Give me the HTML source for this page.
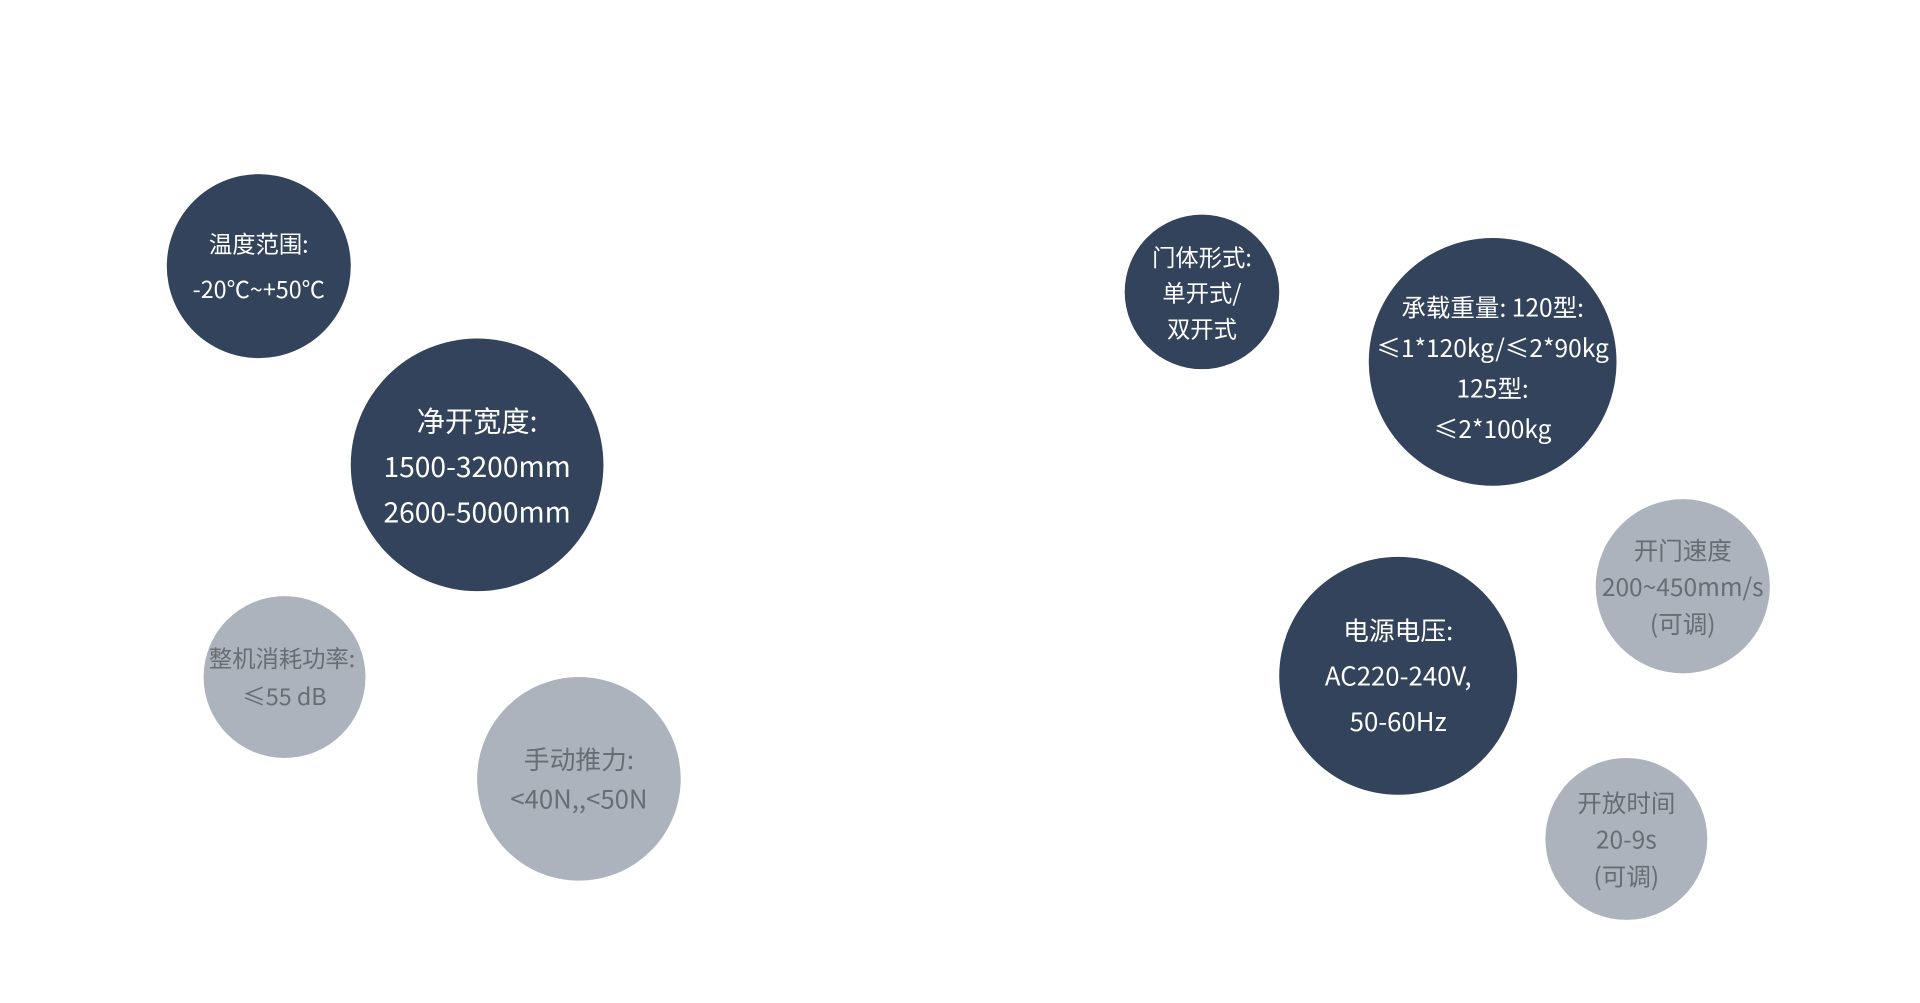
<!DOCTYPE html>
<html><head><meta charset="utf-8"><style>
html,body{margin:0;padding:0;background:#fff;width:1920px;height:1000px;overflow:hidden}
#w{position:absolute;left:0;top:0;width:1570px;height:818px;transform:scale(1.2265);transform-origin:0 0}
.c{position:absolute;border-radius:50%;display:flex;flex-direction:column;align-items:center;justify-content:center;text-align:center;font-family:"Noto Sans CJK SC","Liberation Sans",sans-serif;white-space:nowrap}
.d{background:#32435b;color:#fff}
.g{background:#adb3bd;color:#686c73}
</style></head><body><div id="w">
<div class="c d" style="left:136px;top:142px;width:150px;height:150px;font-size:19px;line-height:37px"><div>温度范围:</div><div>-20℃~+50℃</div></div>
<div class="c d" style="left:286px;top:276px;width:206px;height:206px;font-size:23px;line-height:37px"><div>净开宽度:</div><div>1500-3200mm</div><div>2600-5000mm</div></div>
<div class="c g" style="left:166px;top:486px;width:132px;height:132px;font-size:19px;line-height:31px"><div style="margin-left:-4px">整机消耗功率:</div><div>≤55 dB</div></div>
<div class="c g" style="left:389px;top:552px;width:166px;height:166px;font-size:21px;line-height:32px"><div>手动推力:</div><div>&lt;40N,,&lt;50N</div></div>
<div class="c d" style="left:917px;top:175px;width:126px;height:126px;font-size:19px;line-height:29px"><div>门体形式:</div><div>单开式/</div><div>双开式</div></div>
<div class="c d" style="left:1116px;top:194px;width:202px;height:202px;font-size:20px;line-height:33px;padding-top:8px;box-sizing:border-box"><div>承载重量: 120型:</div><div>≤1*120kg/≤2*90kg</div><div>125型:</div><div>≤2*100kg</div></div>
<div class="c g" style="left:1301px;top:407px;width:142px;height:142px;font-size:20px;line-height:30px"><div>开门速度</div><div>200~450mm/s</div><div>(可调)</div></div>
<div class="c d" style="left:1043px;top:454px;width:194px;height:194px;font-size:21px;line-height:37px"><div>电源电压:</div><div>AC220-240V,</div><div>50-60Hz</div></div>
<div class="c g" style="left:1260px;top:618px;width:132px;height:132px;font-size:20px;line-height:30px"><div>开放时间</div><div>20-9s</div><div>(可调)</div></div>
</div></body></html>
